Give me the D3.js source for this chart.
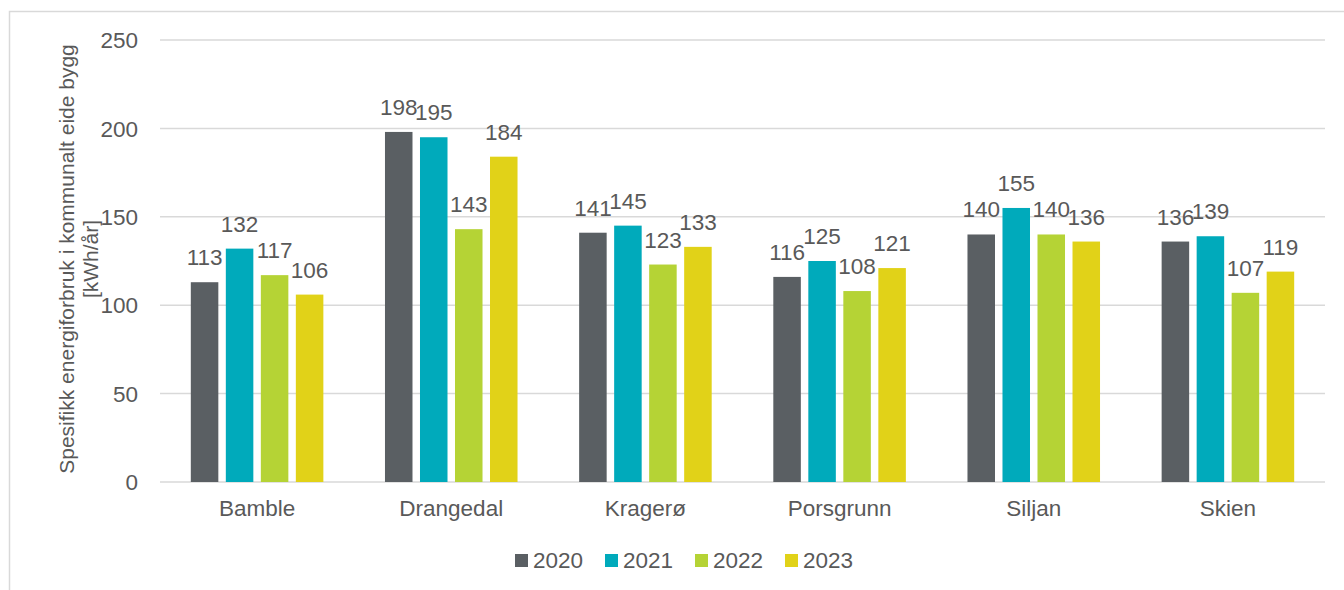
<!DOCTYPE html>
<html><head><meta charset="utf-8">
<script src="https://cdn.jsdelivr.net/npm/d3@7"></script>
<style>
html,body{margin:0;padding:0;background:#fff;}
svg text{font-family:"Liberation Sans",Arial,sans-serif;fill:#595959;}
</style></head>
<body><svg id="c" width="1344" height="590"></svg>
<script>
const categories = ["Bamble","Drangedal","Kragerø","Porsgrunn","Siljan","Skien"];
const years = ["2020","2021","2022","2023"];
const v2020 = [113,198,141,116,140,136];
const v2021 = [132,195,145,125,155,139];
const v2022 = [117,143,123,108,140,107];
const v2023 = [106,184,133,121,136,119];
const yTicks = [0,50,100,150,200,250];
const colors = ["#5a5f63","#00aabb","#b5d335","#e1d218"];
const series = [v2020,v2021,v2022,v2023];

const svg = d3.select("#c");
// outer frame
svg.append("path").attr("d","M9.5,590 L9.5,11.5 L1344,11.5").attr("fill","none").attr("stroke","#d9d9d9").attr("stroke-width",1.5);

const pL=160,pR=1325,pT=40,pB=482;
const x0 = d3.scaleBand().domain(categories).range([pL,pR]).padding(0);
const x1 = d3.scaleBand().domain(years).range([0,x0.bandwidth()]).paddingInner(0.214).paddingOuter(0.88);
const y = d3.scaleLinear().domain([0,250]).range([pB,pT]);

// grid
svg.append("g").selectAll("line").data(yTicks).join("line")
  .attr("x1",pL).attr("x2",pR).attr("y1",d=>y(d)).attr("y2",d=>y(d))
  .attr("stroke","#d9d9d9").attr("stroke-width",1.5);

// y tick labels
svg.append("g").selectAll("text").data(yTicks).join("text")
  .attr("x",138).attr("y",d=>y(d)).attr("text-anchor","end").attr("dy","0.36em")
  .style("font-size","22.5px").text(d=>d);

// bars
const data = [];
categories.forEach((c,i)=>years.forEach((yr,j)=>data.push({c,yr,j,v:series[j][i]})));
const g = svg.append("g");
g.selectAll("rect").data(data).join("rect")
  .attr("x",d=>x0(d.c)+x1(d.yr)).attr("width",x1.bandwidth())
  .attr("y",d=>y(d.v)).attr("height",d=>y(0)-y(d.v))
  .attr("fill",d=>colors[d.j]);
g.selectAll("text").data(data).join("text")
  .attr("x",d=>x0(d.c)+x1(d.yr)+x1.bandwidth()/2).attr("y",d=>y(d.v)-17)
  .attr("text-anchor","middle").style("font-size","22.5px").text(d=>d.v);

// x labels
svg.append("g").selectAll("text").data(categories).join("text")
  .attr("x",d=>x0(d)+x0.bandwidth()/2).attr("y",516).attr("text-anchor","middle")
  .style("font-size","22.5px").text(d=>d);

// y title
const yt = svg.append("text").attr("transform","translate(74,259) rotate(-90)").attr("text-anchor","middle").style("font-size","21px");
yt.append("tspan").attr("x",0).attr("y",0).text("Spesifikk energiforbruk i kommunalt eide bygg");
yt.append("tspan").attr("x",0).attr("y",24).text("[kWh/år]");

// legend
const lg = svg.append("g").selectAll("g").data(years).join("g").attr("transform",(d,i)=>`translate(${515+i*90},0)`);
lg.append("rect").attr("x",0).attr("y",554).attr("width",13).attr("height",13).attr("fill",(d,i)=>colors[i]);
lg.append("text").attr("x",18).attr("y",568).style("font-size","22.5px").text(d=>d);
</script></body></html>
